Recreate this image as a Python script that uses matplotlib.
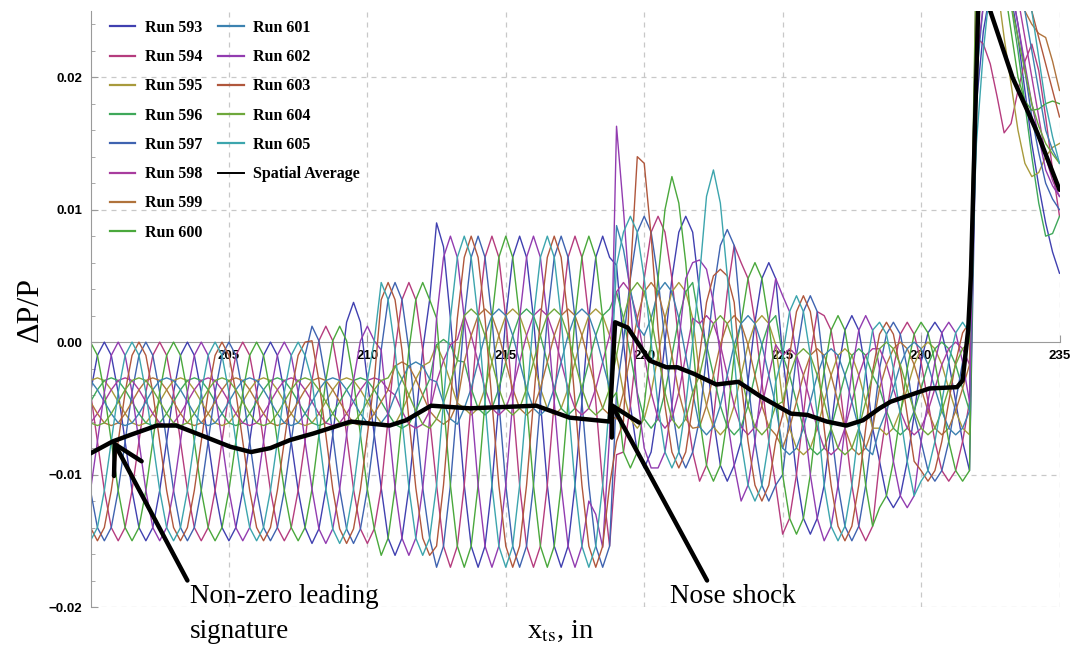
import matplotlib
matplotlib.use("Agg")
import matplotlib.pyplot as plt
from matplotlib.lines import Line2D
from matplotlib.font_manager import FontProperties

plt.rcParams['mathtext.fontset'] = 'stix'

# ---------------- data (dP/P, in units of 1e-4) ----------------
x_in = [200.0, 200.25, 200.5, 200.75, 201.0, 201.25, 201.5, 201.75, 202.0, 202.25, 202.5, 202.75,
        203.0, 203.25, 203.5, 203.75, 204.0, 204.25, 204.5, 204.75, 205.0, 205.25, 205.5, 205.75,
        206.0, 206.25, 206.5, 206.75, 207.0, 207.25, 207.5, 207.75, 208.0, 208.25, 208.5, 208.75,
        209.0, 209.25, 209.5, 209.75, 210.0, 210.25, 210.5, 210.75, 211.0, 211.25, 211.5, 211.75,
        212.0, 212.25, 212.5, 212.75, 213.0, 213.25, 213.5, 213.75, 214.0, 214.25, 214.5, 214.75,
        215.0, 215.25, 215.5, 215.75, 216.0, 216.25, 216.5, 216.75, 217.0, 217.25, 217.5, 217.75,
        218.0, 218.25, 218.5, 218.75, 219.0, 219.25, 219.5, 219.75, 220.0, 220.25, 220.5, 220.75,
        221.0, 221.25, 221.5, 221.75, 222.0, 222.25, 222.5, 222.75, 223.0, 223.25, 223.5, 223.75,
        224.0, 224.25, 224.5, 224.75, 225.0, 225.25, 225.5, 225.75, 226.0, 226.25, 226.5, 226.75,
        227.0, 227.25, 227.5, 227.75, 228.0, 228.25, 228.5, 228.75, 229.0, 229.25, 229.5, 229.75,
        230.0, 230.25, 230.5, 230.75, 231.0, 231.25, 231.5, 231.75, 232.0, 232.25, 232.5, 232.75,
        233.0, 233.25, 233.5, 233.75, 234.0, 234.25, 234.5, 234.75, 235.0]

run_593 = [-38, -10, 0, -10, -38, -75, -112, -140, -150, -140, -112, -75,
           -38, -10, 0, -10, -38, -75, -112, -140, -150, -140, -112, -75,
           -38, -10, 0, -10, -38, -75, -112, -140,
           -152, -141, -111, -70, -29, 15, 30, 15, -29, -70,
           -110, -148, -161, -148, -110, -58, -6, 32,
           90, 72, 18, -45, -108, -154, -170, -154, -108, -45, 18, 64,
           80, 64, 18, -45, -108, -154, -170, -154, -108, -45, 18, 64, 80, 64,
           58,
           0, -48, -83, -95, -83, -48, 0, 48, 83, 95, 83,
           38, -10, -58, -93, -105, -93,
           -75, -30, 15, 48, 60, 48,
           -10, -55, -100, -133, -145, -133,
           -108, -65, -22, 9, 20, 9, -22, -65,
           -90, -116, -125, -116, -90, -55,
           -15, 7, 15, 7, -15, -45, -75, -97,
           180, 235, 265, 280, 280, 262, 230, 190, 150, 118, 90, 68, 52]
run_594 = [-38, -75, -112, -140, -150, -140, -112, -75, -38, -10, 0, -10,
           -38, -75, -112, -140, -150, -140, -112, -75, -38, -10, 0, -10,
           -38, -75, -112, -140, -150, -140, -112, -75,
           -29, 1, 12, 1, -29, -70, -111, -141, -152, -141,
           -110, -58, -6, 32, 45, 32, -6, -58,
           -108, -154, -170, -154, -108, -45, 18, 64, 80, 64, 18, -45,
           -108, -154, -170, -154, -108, -45, 18, 64, 80, 64, 18, -45, -108, -154,
           -85,
           -83, -48, 0, 48, 83, 95, 83, 48, 0, -48, -83,
           -105, -93, -58, -10, 38, 73,
           60, 48, 15, -30, -75, -108,
           -145, -133, -100, -55, -10, 23,
           20, 9, -22, -65, -108, -139, -150, -139,
           -90, -55, -20, 6, 15, 6,
           -15, -45, -75, -97, -105, -97, -75, -45,
           230, 225, 210, 185, 158, 165, 190, 212, 225, 205, 170, 130, 95]
run_595 = [-29, -27, -29, -36, -45, -54, -61, -63, -61, -54, -45, -36,
           -29, -27, -29, -36, -45, -54, -61, -63, -61, -54, -45, -36,
           -29, -27, -29, -36, -45, -54, -61, -63, -61, -54, -45, -36,
           -29, -27, -29, -36, -45, -54, -61, -63,
           -62, -52, -40, -28, -18, -15,
           -2, -14, -30, -46,
           -50, -55, -50, -35, -15, 5, 20, 25, 20, 5, -15, -35,
           -50, -55, -50, -35, -15, 5, 20, 25, 20, 5,
           -10, -38, -58, -65, -58, -38, -10, 18, 38, 45, 38, 18,
           -25, -48, -64, -70, -64, -48, -25, -2, 14, 20, 14, -2,
           -45, -65, -80, -85, -80, -65, -45, -25, -10, -5, -10, -25, -45, -65,
           -65, -70, -65, -52, -35, -17, -5, 0, -5, -17, -35, -52, -65, -70,
           260, 290, 300, 270, 230, 195, 160, 135, 125, 128, 140, 147, 150]
run_596 = [-45, -36, -29, -27, -29, -36, -45, -54, -61, -63, -61, -54,
           -45, -36, -29, -27, -29, -36, -45, -54, -61, -63, -61, -54,
           -45, -36, -29, -27, -29, -36, -45, -54, -61, -63, -61, -54,
           -45, -36, -29, -27, -29, -36, -45, -54,
           -62, -65, -62, -52, -40, -28,
           -2, 2, -2, -14,
           -15, -35, -50, -55, -50, -35, -15, 5, 20, 25, 20, 5,
           -15, -35, -50, -55, -50, -35, -15, 5, 20, 25,
           38, 18, -10, -38, -58, -65, -58, -38, -10, 18, 38, 45,
           14, -2, -25, -48, -64, -70, -64, -48, -25, -2, 14, 20,
           -10, -25, -45, -65, -80, -85, -80, -65, -45, -25, -10, -5, -10, -25,
           -35, -52, -65, -70, -65, -52, -35, -17, -5, 0, -5, -17, -35, -52,
           240, 285, 310, 305, 290, 255, 220, 180, 140, 105, 80, 82, 95]
run_597 = [-112, -140, -150, -140, -112, -75, -38, -10, 0, -10, -38, -75,
           -112, -140, -150, -140, -112, -75, -38, -10, 0, -10, -38, -75,
           -112, -140, -150, -140, -112, -75, -38, -10,
           12, 1, -29, -70, -111, -141, -152, -141, -111, -70,
           -6, 32, 45, 32, -6, -58, -110, -148,
           -170, -154, -108, -45, 18, 64, 80, 64, 18, -45, -108, -154,
           -170, -154, -108, -45, 18, 64, 80, 64, 18, -45, -108, -154, -170, -154,
           -38,
           0, 48, 83, 95, 83, 48, 0, -48, -83, -95, -83,
           -58, -10, 38, 73, 85, 73,
           15, -30, -75, -108, -120, -108,
           -100, -55, -10, 23, 35, 23,
           -22, -65, -108, -139, -150, -139, -108, -65,
           -20, 6, 15, 6, -20, -55,
           -75, -97, -105, -97, -75, -45, -15, 7,
           270, 310, 330, 320, 300, 270, 240, 205, 170, 143, 120, 108, 100]
run_598 = [-61, -54, -45, -36, -29, -27, -29, -36, -45, -54, -61, -63,
           -61, -54, -45, -36, -29, -27, -29, -36, -45, -54, -61, -63,
           -61, -54, -45, -36, -29, -27, -29, -36, -45, -54, -61, -63,
           -61, -54, -45, -36, -29, -27, -29, -36,
           -40, -52, -62, -65, -62, -52,
           -30, -14, -2, 2,
           20, 5, -15, -35, -50, -55, -50, -35, -15, 5, 20, 25,
           20, 5, -15, -35, -50, -55, -50, -35, -15, 5,
           38, 45, 38, 18, -10, -38, -58, -65, -58, -38, -10, 18,
           14, 20, 14, -2, -25, -48, -64, -70, -64, -48, -25, -2,
           -10, -5, -10, -25, -45, -65, -80, -85, -80, -65, -45, -25, -10, -5,
           -5, -17, -35, -52, -65, -70, -65, -52, -35, -17, -5, 0, -5, -17,
           290, 325, 340, 330, 310, 285, 260, 230, 200, 170, 140, 122, 110]
run_599 = [-45, -54, -61, -63, -61, -54, -45, -36, -29, -27, -29, -36,
           -45, -54, -61, -63, -61, -54, -45, -36, -29, -27, -29, -36,
           -45, -54, -61, -63, -61, -54, -45, -36, -29, -27, -29, -36,
           -45, -54, -61, -63, -61, -54, -45, -36,
           -18, -15, -18, -28, -40, -52,
           -58, -62, -58, -46,
           -15, 5, 20, 25, 20, 5, -15, -35, -50, -55, -50, -35,
           -15, 5, 20, 25, 20, 5, -15, -35, -50, -55,
           -58, -38, -10, 18, 38, 45, 38, 18, -10, -38, -58, -65,
           -64, -48, -25, -2, 14, 20, 14, -2, -25, -48, -64, -70,
           -80, -65, -45, -25, -10, -5, -10, -25, -45, -65, -80, -85, -80, -65,
           -35, -17, -5, 0, -5, -17, -35, -52, -65, -70, -65, -52, -35, -17,
           250, 295, 320, 330, 330, 300, 270, 250, 240, 233, 230, 212, 190]
run_600 = [0, -10, -38, -75, -112, -140, -150, -140, -112, -75, -38, -10,
           0, -10, -38, -75, -112, -140, -150, -140, -112, -75, -38, -10,
           0, -10, -38, -75, -112, -140, -150, -140,
           -111, -70, -29, 1, 12, 1, -29, -70, -111, -141,
           -161, -148, -110, -58, -6, 32, 45, 32,
           18, -45, -108, -154, -170, -154, -108, -45, 18, 64, 80, 64,
           18, -45, -108, -154, -170, -154, -108, -45, 18, 64, 80, 64, 18, -45,
           -38,
           -83, -95, -83, -48, 0, 48, 100, 125, 105, 60, 0,
           -58, -93, -105, -93, -58, -10,
           15, 48, 60, 48, 15, -30,
           -100, -133, -145, -133, -100, -55,
           -22, 9, 20, 9, -22, -65, -108, -139,
           -125, -116, -90, -55, -20, 6,
           15, 7, -15, -45, -75, -97, -105, -97,
           230, 275, 300, 290, 270, 235, 200, 182, 175, 176, 180, 182, 180]
run_601 = [-29, -36, -45, -54, -61, -63, -61, -54, -45, -36, -29, -27,
           -29, -36, -45, -54, -61, -63, -61, -54, -45, -36, -29, -27,
           -29, -36, -45, -54, -61, -63, -61, -54, -45, -36, -29, -27,
           -29, -36, -45, -54, -61, -63, -61, -54,
           -40, -28, -18, -15, -18, -28,
           -30, -46, -58, -62,
           -50, -35, -15, 5, 20, 25, 20, 5, -15, -35, -50, -55,
           -50, -35, -15, 5, 20, 25, 20, 5, -15, -35,
           88, 70, 40, 12, 5, 18, 38, 45, 38, 18, -10, -38,
           -64, -70, -64, -48, -25, -2, 14, 20, 14, -2, -25, -48,
           -80, -85, -80, -65, -45, -25, -10, -5, -10, -25, -45, -65, -80, -85,
           -65, -52, -35, -17, -5, 0, -5, -17, -35, -52, -65, -70, -65, -52,
           200, 255, 290, 305, 310, 300, 280, 250, 220, 190, 160, 145, 135]
run_602 = [-112, -75, -38, -10, 0, -10, -38, -75, -112, -140, -150, -140,
           -112, -75, -38, -10, 0, -10, -38, -75, -112, -140, -150, -140,
           -112, -75, -38, -10, 0, -10, -38, -75,
           -111, -141, -152, -141, -111, -70, -29, 1, 12, 1,
           -6, -58, -110, -148, -161, -148, -110, -58,
           18, 64, 80, 64, 18, -45, -108, -154, -170, -154, -108, -45,
           18, 64, 80, 64, 18, -45, -108, -154, -170, -154, -120, -130, -155, -70,
           163,
           100, 30, -40, -80, -95, -95, -83, -48, 0, 48, 60,
           62, 55, 30, -10, -58, -93,
           -120, -108, -75, -30, 15, 48,
           35, 23, -10, -55, -100, -133,
           -150, -139, -108, -65, -22, 9, 20, 9,
           -20, -55, -90, -116, -125, -116,
           -75, -45, -15, 7, 15, 7, -15, -45,
           210, 255, 280, 290, 290, 268, 240, 210, 180, 155, 130, 118, 110]
run_603 = [-140, -150, -140, -112, -75, -38, -10, 0, -10, -38, -75, -112,
           -140, -150, -140, -112, -75, -38, -10, 0, -10, -38, -75, -112,
           -140, -150, -140, -112, -75, -38, -10, 0,
           1, -29, -70, -111, -141, -152, -141, -111, -70, -29,
           32, 45, 32, -6, -58, -110, -148, -161,
           -154, -108, -45, 18, 64, 80, 64, 18, -45, -108, -154, -170,
           -154, -108, -45, 18, 64, 80, 64, 18, -45, -108, -154, -170, -154, -108,
           -75,
           -60, 50, 140, 135, 80, 10, -48, -83, -95, -83, -48,
           -10, 30, 50, 55, 50, 30,
           -30, -75, -108, -120, -108, -75,
           -55, -10, 23, 35, 23, -10,
           -65, -108, -139, -150, -139, -108, -65, -22,
           6, 15, 6, -20, -55, -90,
           -97, -105, -97, -75, -45, -15, 7, 15,
           260, 300, 320, 318, 310, 300, 290, 272, 250, 230, 210, 190, 170]
run_604 = [-61, -63, -61, -54, -45, -36, -29, -27, -29, -36, -45, -54,
           -61, -63, -61, -54, -45, -36, -29, -27, -29, -36, -45, -54,
           -61, -63, -61, -54, -45, -36, -29, -27, -29, -36, -45, -54,
           -61, -63, -61, -54, -45, -36, -29, -27,
           -18, -28, -40, -52, -62, -65,
           -58, -46, -30, -14,
           20, 25, 20, 5, -15, -35, -50, -55, -50, -35, -15, 5,
           20, 25, 20, 5, -15, -35, -50, -55, -50, -35,
           -10, 18, 38, 45, 38, 18, -10, -38, -58, -65, -58, -38,
           -25, -2, 14, 20, 14, -2, -25, -48, -64, -70, -64, -48,
           -45, -25, -10, -5, -10, -25, -45, -65, -80, -85, -80, -65, -45, -25,
           -5, 0, -5, -17, -35, -52, -65, -70, -65, -52, -35, -17, -5, 0,
           300, 320, 330, 310, 280, 255, 230, 205, 180, 163, 150, 142, 135]
run_605 = [-150, -140, -112, -75, -38, -10, 0, -10, -38, -75, -112, -140,
           -150, -140, -112, -75, -38, -10, 0, -10, -38, -75, -112, -140,
           -150, -140, -112, -75, -38, -10, 0, -10,
           -29, -70, -111, -141, -152, -141, -111, -70, -29, 1,
           45, 32, -6, -58, -110, -148, -161, -148,
           -108, -45, 18, 64, 80, 64, 18, -45, -108, -154, -170, -154,
           -108, -45, 18, 64, 80, 64, 18, -45, -108, -154, -170, -154, -108, -45,
           58,
           83, 95, 83, 48, 0, -48, -83, -95, -83, -48, 0,
           50, 110, 130, 105, 50, -10,
           -75, -108, -120, -108, -75, -30,
           -10, 23, 35, 23, -10, -55,
           -108, -139, -150, -139, -108, -65, -22, 9,
           15, 6, -20, -55, -90, -116,
           -105, -97, -75, -45, -15, 7, 15, 7,
           150, 220, 270, 295, 310, 308, 300, 278, 250, 215, 180, 155, 135]

avg_x = [200.0, 200.8, 201.45, 202.4, 203.1, 204.2, 205.05, 205.8, 206.5, 207.2,
         208.05, 209.4, 210.8, 211.4, 212.3, 213.7, 214.9, 216.1, 217.3, 218.75,
         218.95, 219.4, 220.2, 220.8, 221.2, 221.8, 222.6, 223.4, 224.2, 225.3,
         225.9, 226.6, 227.3, 227.9, 228.5, 228.9, 229.6, 230.3, 231.3, 231.5,
         231.7, 231.8, 232.06, 232.3, 232.5, 233.3, 234.2, 235.0]
avg_y = [-84, -75, -70, -63, -63, -72, -79, -83, -80, -74,
         -69, -60, -63, -59, -48, -50, -49, -48, -57, -60,
         15, 11, -14, -19, -19, -24, -32, -30, -41, -54,
         -55, -60, -63, -59, -50, -45, -40, -35, -34, -29,
         9, 50, 250, 270, 250, 200, 158, 115]

run_labels = ["Run 593", "Run 594", "Run 595", "Run 596", "Run 597", "Run 598", "Run 599",
              "Run 600", "Run 601", "Run 602", "Run 603", "Run 604", "Run 605"]
run_colors = ["#4040B0", "#B53C7E", "#A89A3C", "#3FA85A", "#3F63B0", "#A83C9E", "#B0733C",
              "#4AA83C", "#3C82B0", "#923CB0", "#B0573C", "#6EA83C", "#3CA5AD"]
runs = [run_593, run_594, run_595, run_596, run_597, run_598, run_599,
        run_600, run_601, run_602, run_603, run_604, run_605]

x_ticks = [205, 210, 215, 220, 225, 230, 235]
y_ticks = [-0.02, -0.01, 0.0, 0.01, 0.02]
y_ticklabels = ["\u22120.02", "\u22120.01", "0.00", "0.01", "0.02"]

for lab, r in zip(run_labels, runs):
    assert len(r) == len(x_in), (lab, len(r))

# ---------------- figure ----------------
W, H = 1075, 646
fig = plt.figure(figsize=(W / 100, H / 100), dpi=100)
ax = fig.add_axes([90.5 / W, 39 / H, 969 / W, 596 / H])
ax.set_xlim(200, 235)
ax.set_ylim(-0.02, 0.025)

grid_kw = dict(color="#c8c8c8", lw=0.9, dashes=(4, 4), zorder=0)
for xv in x_ticks:
    ax.axvline(xv, **grid_kw)
for yv in [-0.02, -0.01, 0.01, 0.02]:
    ax.axhline(yv, **grid_kw)

for i, (vals, col) in enumerate(zip(runs, run_colors)):
    ax.plot(x_in, [v * 1e-4 for v in vals], color=col, lw=1.0, zorder=2 + i * 0.01,
            solid_joinstyle="round")
ax.plot(avg_x, [v * 1e-4 for v in avg_y], color="black", lw=3.2, zorder=5,
        solid_joinstyle="round", solid_capstyle="round")

# axes in Mathematica style
for s in ["top", "right"]:
    ax.spines[s].set_visible(False)
ax.spines["bottom"].set_position(("data", 0))
ax.spines["bottom"].set_color("#9a9a9a")
ax.spines["left"].set_color("#9a9a9a")
ax.spines["bottom"].set_zorder(1)
ax.set_xticks(x_ticks)
ax.set_xticklabels([str(t) for t in x_ticks])
ax.set_yticks(y_ticks)
ax.set_yticklabels(y_ticklabels)
ax.set_yticks([-0.018, -0.016, -0.014, -0.012, -0.008, -0.006, -0.004, -0.002,
               0.002, 0.004, 0.006, 0.008, 0.012, 0.014, 0.016, 0.018, 0.022, 0.024],
              minor=True)
ax.tick_params(axis="both", which="major", direction="in", length=5, width=0.8,
               color="#9a9a9a", labelsize=9.5)
ax.tick_params(axis="y", which="minor", direction="in", length=3, width=0.6, color="#9a9a9a")
ax.tick_params(axis="x", pad=6)
ax.tick_params(axis="y", pad=6)
for lab in ax.get_xticklabels() + ax.get_yticklabels():
    lab.set_fontweight("bold")
    lab.set_family("Liberation Sans")

# legend (two columns, 8 + 6 entries)
lp = FontProperties(family="Liberation Serif", weight="bold", size=11.5)
h1 = [Line2D([], [], color=c, lw=1.6) for c in run_colors[:8]]
h2 = [Line2D([], [], color=c, lw=1.6) for c in run_colors[8:]] + [Line2D([], [], color="black", lw=1.4)]
leg_kw = dict(loc="upper left", frameon=False, prop=lp, handlelength=1.6, handletextpad=0.6,
              labelspacing=0.83, borderpad=0, borderaxespad=0)
leg1 = ax.legend(h1, run_labels[:8], bbox_to_anchor=(0.020, 0.985), **leg_kw)
ax.add_artist(leg1)
ax.legend(h2, run_labels[8:] + ["Spatial Average"], bbox_to_anchor=(0.1316, 0.985), **leg_kw)

# annotations
arrow_kw = dict(arrowstyle="->,head_length=0.8,head_width=0.45", lw=3.2, color="black",
                mutation_scale=25, shrinkA=0, shrinkB=0)
ax.annotate("", xy=(200.8, -0.0074), xytext=(203.5, -0.018), arrowprops=arrow_kw, zorder=6)
ax.annotate("", xy=(218.77, -0.0045), xytext=(222.27, -0.018), arrowprops=arrow_kw, zorder=6)

tfont = dict(family="Liberation Serif", size=19.5)
fig.text(190 / W, 1 - 603 / H, "Non-zero leading", va="baseline", ha="left", **tfont)
fig.text(190 / W, 1 - 638 / H, "signature", va="baseline", ha="left", **tfont)
fig.text(670 / W, 1 - 603 / H, "Nose shock", va="baseline", ha="left", **tfont)
fig.text(527 / W, 1 - 638 / H, r"x$_{\mathrm{ts}}$, in", va="baseline", ha="left",
         family="Liberation Serif", size=20.5)
fig.text(30 / W, 1 - 310 / H, "\u0394P/P", va="center", ha="center", rotation=90,
         family="Liberation Serif", size=23)

fig.savefig("out.png", dpi=100)
